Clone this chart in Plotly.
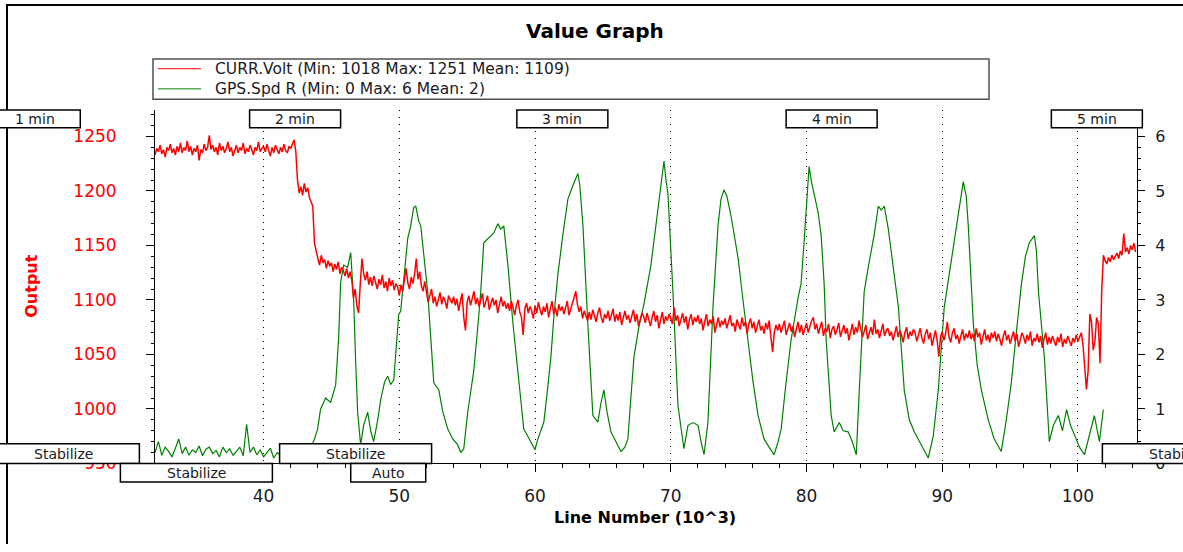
import numpy as np
import plotly.graph_objects as go

# ---------------------------------------------------------------------------
# Data
# ---------------------------------------------------------------------------
# CURR.Volt, one sample every 125 lines starting at line 32,000 (x in 10^3 lines)
volt_start = 32.0
volt_step = 0.125
volt = [
    1233, 1239, 1236, 1242, 1234, 1238, 1231, 1240, 1237, 1243, 1235, 1239, 1233, 1241, 1236, 1244,
    1235, 1240, 1237, 1246, 1236, 1241, 1233, 1239, 1236, 1242, 1228, 1238, 1235, 1243, 1237, 1240,
    1251, 1238, 1242, 1236, 1240, 1233, 1244, 1237, 1241, 1235, 1239, 1245, 1236, 1240, 1232, 1238,
    1242, 1235, 1240, 1237, 1244, 1234, 1239, 1236, 1242, 1238, 1233, 1240, 1237, 1245, 1236, 1239,
    1241, 1236, 1243, 1237, 1232, 1240, 1235, 1242, 1238, 1234, 1240, 1236, 1243, 1237, 1235, 1241,
    1239, 1244, 1247, 1236, 1210, 1198, 1204, 1196, 1207, 1199, 1203, 1194, 1190, 1186, 1152, 1143,
    1138, 1132, 1141, 1134, 1137, 1129, 1136, 1131, 1134, 1126, 1133, 1128, 1135, 1124, 1130, 1127,
    1122, 1129, 1120, 1126, 1118, 1102, 1110, 1094, 1088, 1115, 1138, 1124, 1118, 1126, 1114, 1121,
    1113, 1122, 1116, 1110, 1119, 1114, 1123, 1111, 1117, 1108, 1120, 1113, 1118, 1109, 1115, 1112,
    1104, 1114, 1108, 1117, 1129, 1116, 1110, 1121, 1115, 1124, 1138, 1119, 1126, 1113, 1108, 1117,
    1106, 1098, 1104, 1110, 1097, 1103, 1094, 1101, 1107, 1096, 1103, 1099, 1092, 1104, 1100, 1097,
    1103, 1095, 1101, 1090, 1099, 1106, 1084, 1072, 1098, 1104, 1095, 1101, 1108, 1096, 1102, 1094,
    1100, 1106, 1093, 1099, 1104, 1091, 1097, 1102, 1095, 1100, 1088, 1097, 1103, 1094, 1099, 1092,
    1097, 1090, 1099, 1093, 1086, 1095, 1100, 1089, 1084, 1068, 1092, 1097, 1088, 1094, 1090, 1083,
    1095, 1088, 1098, 1091, 1086, 1094, 1089, 1097, 1084, 1092, 1099, 1087, 1093, 1085, 1096, 1090,
    1094, 1087, 1092, 1099, 1086, 1093, 1097, 1102, 1108, 1096, 1089, 1094, 1083, 1090, 1086, 1081,
    1089, 1082, 1091, 1085, 1080, 1088, 1093, 1084, 1079, 1087, 1083, 1090, 1081, 1086, 1092, 1080,
    1087, 1081, 1089, 1077, 1085, 1090, 1082, 1086, 1079, 1084, 1091, 1080, 1087, 1076, 1083, 1088,
    1085, 1079, 1088, 1082, 1076, 1084, 1090, 1080, 1086, 1074, 1083, 1089, 1078, 1085, 1081, 1087,
    1083, 1078, 1093, 1081, 1086, 1076, 1082, 1088, 1079, 1085, 1073, 1082, 1087, 1077, 1084, 1080,
    1086, 1078, 1083, 1072, 1080, 1087, 1076, 1082, 1078, 1085, 1070, 1079, 1084, 1075, 1081, 1077,
    1083, 1074, 1080, 1086, 1076, 1079, 1071, 1082, 1077, 1073, 1084, 1076, 1080, 1069, 1078, 1083,
    1074, 1080, 1070, 1077, 1082, 1072, 1076, 1069, 1079, 1073, 1081, 1066, 1052, 1070, 1077, 1072,
    1078, 1070, 1075, 1081, 1068, 1074, 1079, 1071, 1076, 1066, 1073, 1080, 1070, 1077, 1068, 1074,
    1079, 1070, 1076, 1081, 1084, 1073, 1078, 1069, 1075, 1080, 1067, 1074, 1071, 1078, 1065, 1073,
    1076, 1068, 1073, 1079, 1066, 1072, 1077, 1069, 1074, 1063, 1071, 1078, 1068, 1075, 1070, 1081,
    1073, 1066, 1071, 1077, 1064, 1070, 1075, 1068, 1082, 1069, 1073, 1065, 1071, 1078, 1067, 1072,
    1074, 1067, 1071, 1063, 1069, 1076, 1066, 1072, 1068, 1061, 1070, 1075, 1064, 1071, 1067, 1073,
    1070, 1062, 1068, 1074, 1065, 1060, 1069, 1073, 1064, 1070, 1058, 1067, 1072, 1063, 1048, 1066,
    1071, 1063, 1069, 1080, 1066, 1061, 1070, 1074, 1064, 1068, 1060, 1067, 1073, 1063, 1069, 1065,
    1072, 1064, 1069, 1062, 1074, 1066, 1070, 1059, 1067, 1073, 1063, 1068, 1061, 1070, 1065, 1071,
    1062, 1069, 1064, 1058, 1067, 1072, 1063, 1068, 1060, 1066, 1071, 1062, 1069, 1057, 1065, 1070,
    1066, 1060, 1068, 1063, 1071, 1058, 1065, 1062, 1069, 1061, 1067, 1056, 1064, 1070, 1059, 1066,
    1060, 1067, 1062, 1058, 1066, 1061, 1069, 1057, 1064, 1060, 1067, 1062, 1058, 1065, 1061, 1068,
    1062, 1066, 1070, 1058, 1040, 1018, 1035, 1087, 1080, 1054, 1062, 1084, 1078, 1042, 1108, 1141,
    1136, 1133, 1139, 1135, 1141, 1137, 1140, 1143, 1138, 1145, 1141, 1161, 1144, 1148, 1142, 1150,
    1146, 1152, 1144,
]
volt_line = volt_start + volt_step * np.arange(len(volt))

# GPS.Spd R samples (line number in 10^3, speed)
spd_line = [
    32.0, 32.25, 32.5, 32.75, 33.0, 33.25, 33.5, 33.75, 34.0, 34.25, 34.5, 34.75,
    35.0, 35.25, 35.5, 35.75, 36.0, 36.25, 36.5, 36.75, 37.0, 37.25, 37.5, 37.75,
    38.0, 38.25, 38.5, 38.75, 39.0, 39.25, 39.5, 39.75, 40.0, 40.25, 40.5, 40.75,
    41.0, 41.25, 41.5, 41.75, 42.0, 42.25, 42.5, 42.75, 43.0, 43.25, 43.5, 43.75,
    43.98, 44.20, 44.57, 44.94, 45.31, 45.53, 45.68, 45.90, 46.19, 46.42, 46.64, 46.78,
    46.93, 47.15, 47.37, 47.67, 47.89, 48.11, 48.41, 48.63, 48.92, 49.14, 49.37, 49.59,
    49.96, 50.10, 50.40, 50.62, 50.84, 51.06, 51.21, 51.43, 51.58, 52.09, 52.54, 52.91,
    53.20, 53.57, 53.94, 54.31, 54.53, 54.75, 55.04, 55.27, 55.49, 55.78, 56.00, 56.22,
    56.59, 56.96, 57.26, 57.48, 57.70, 58.00, 58.36, 58.73, 59.17, 59.47, 59.69, 59.99,
    60.21, 60.65, 60.94, 61.17, 61.39, 61.68, 62.05, 62.42, 62.79, 63.16, 63.30, 63.53,
    63.89, 64.26, 64.63, 64.85, 65.07, 65.30, 65.59, 65.96, 66.33, 66.62, 66.84, 67.06,
    67.29, 67.65, 68.02, 68.54, 68.91, 69.28, 69.50, 69.65, 69.79, 70.16, 70.53, 70.97,
    71.27, 71.64, 72.01, 72.23, 72.45, 72.74, 73.11, 73.48, 73.70, 73.92, 74.14, 74.44,
    74.96, 75.32, 75.69, 76.06, 76.43, 76.87, 77.24, 77.61, 77.91, 78.13, 78.50, 78.86,
    79.38, 79.60, 79.82, 80.04, 80.19, 80.34, 80.56, 80.86, 81.08, 81.30, 81.45, 81.67,
    81.82, 82.04, 82.41, 82.70, 83.07, 83.37, 83.67, 83.89, 84.25, 84.55, 84.77, 84.99,
    85.29, 85.51, 85.73, 86.03, 86.25, 86.77, 87.20, 87.57, 87.94, 88.45, 88.97, 89.34,
    89.71, 90.15, 90.52, 90.88, 91.25, 91.55, 91.77, 91.92, 92.29, 92.58, 92.88, 93.39,
    93.83, 94.35, 94.72, 95.09, 95.46, 95.83, 96.13, 96.42, 96.79, 96.94, 97.09, 97.31,
    97.52, 97.89, 98.19, 98.56, 98.86, 99.16, 99.45, 99.75, 100.11, 100.48, 100.85, 101.21,
    101.58, 101.87,
]
spd_val = [
    0.20, 0.40, 0.15, 0.30, 0.22, 0.12, 0.28, 0.45, 0.18, 0.30, 0.15, 0.25,
    0.20, 0.32, 0.14, 0.26, 0.30, 0.18, 0.24, 0.12, 0.30, 0.20, 0.27, 0.15,
    0.22, 0.30, 0.14, 0.72, 0.20, 0.30, 0.16, 0.25, 0.12, 0.20, 0.28, 0.10,
    0.20, 0.15, 0.25, 0.10, 0.18, 0.12, 0.20, 0.15, 0.30, 0.35, 0.30, 0.45,
    0.63, 1.00, 1.20, 1.12, 1.44, 2.30, 3.33, 3.64, 3.60, 3.87, 2.97, 1.90,
    0.94, 0.34, 0.70, 0.94, 0.60, 0.40, 0.80, 1.17, 1.50, 1.60, 1.45, 1.53,
    2.74, 2.79, 3.60, 4.13, 4.36, 4.70, 4.72, 4.45, 4.36, 3.15, 1.48, 1.35,
    0.95, 0.63, 0.45, 0.34, 0.20, 0.27, 0.94, 1.30, 1.71, 2.50, 3.15, 4.05,
    4.15, 4.23, 4.40, 4.30, 4.36, 3.64, 2.60, 1.66, 0.63, 0.50, 0.40, 0.25,
    0.45, 0.76, 1.40, 1.96, 2.70, 3.46, 4.20, 4.85, 5.10, 5.32, 5.10, 4.36,
    2.56, 0.88, 0.76, 1.10, 1.35, 0.95, 0.58, 0.40, 0.22, 0.30, 0.45, 1.20,
    1.96, 2.50, 2.92, 3.64, 4.40, 5.08, 5.55, 5.20, 4.95, 3.15, 1.06, 0.27,
    0.70, 0.75, 0.70, 0.40, 0.16, 0.76, 2.87, 4.36, 4.85, 5.02, 4.90, 4.54,
    3.77, 3.00, 2.26, 1.50, 0.88, 0.45, 0.30, 0.16, 0.40, 0.63, 1.50, 2.26,
    3.04, 3.30, 4.05, 4.90, 5.45, 5.20, 4.95, 4.60, 4.18, 3.30, 2.26, 1.40,
    0.88, 0.58, 0.75, 0.60, 0.58, 0.40, 0.16, 1.35, 3.15, 3.60, 3.87, 4.20,
    4.72, 4.65, 4.72, 4.30, 3.87, 2.87, 1.35, 0.80, 0.58, 0.35, 0.10, 0.50,
    1.35, 2.87, 3.50, 4.05, 4.70, 5.17, 4.90, 4.36, 2.56, 1.80, 1.35, 0.80,
    0.45, 0.22, 0.80, 1.48, 2.40, 3.28, 3.80, 4.05, 4.18, 3.90, 3.15, 2.50,
    1.96, 0.40, 0.70, 0.88, 0.60, 0.99, 0.70, 0.52, 0.30, 0.16, 0.50, 0.88,
    0.40, 0.99,
]

# Time markers and flight-mode changes (line number in 10^3 where each starts)
minute_labels = ["1 min", "2 min", "3 min", "4 min", "5 min"]
minute_lines = [19.79, 38.97, 58.66, 78.50, 98.04]
mode_labels = ["Stabilize", "Stabilize", "Stabilize", "Auto", "Stabilize"]
mode_lines = [19.65, 29.45, 41.18, 46.42, 101.80]

legend_labels = [
    "CURR.Volt (Min: 1018 Max: 1251 Mean: 1109)",
    "GPS.Spd R (Min: 0 Max: 6 Mean: 2)",
]

# ---------------------------------------------------------------------------
# Layout geometry (pixel positions measured from the top-left of the figure)
# ---------------------------------------------------------------------------
W, H = 1183, 552
PLOT_L, PLOT_R, PLOT_T, PLOT_B = 155, 1137, 112, 472
XR = [32.0, 104.35]
YR_VOLT = [950, 1274.3]
YR_SPD = [0, 6.486]
XD = [PLOT_L / W, PLOT_R / W]
YD = [1 - PLOT_B / H, 1 - PLOT_T / H]

RED = "#ff0000"
GREEN = "#008000"
TXT = "#1a1a24"
FONT = "DejaVu Sans"
MODE_BOX_W = {"Stabilize": 152, "Auto": 75}


def px(xp):
    return xp / W


def py(yp):
    return 1 - yp / H


def line_to_px(v):
    return PLOT_L + (v - XR[0]) / (XR[1] - XR[0]) * (PLOT_R - PLOT_L)


fig = go.Figure()
fig.add_trace(go.Scatter(
    x=spd_line, y=spd_val, mode="lines", name="GPS.Spd R",
    line=dict(color=GREEN, width=1.2), xaxis="x", yaxis="y",
))
fig.add_trace(go.Scatter(
    x=volt_line, y=volt, mode="lines", name="CURR.Volt",
    line=dict(color=RED, width=1.5), xaxis="x", yaxis="y2",
))

common = dict(showgrid=False, zeroline=False, tickcolor="black", tickwidth=1)

fig.update_layout(
    width=W, height=H, autosize=False,
    margin=dict(l=0, r=0, t=0, b=0),
    paper_bgcolor="white", plot_bgcolor="white",
    showlegend=False,
    font=dict(family=FONT, color=TXT),
    xaxis=dict(
        domain=XD, range=XR, anchor="y", tick0=0, dtick=10,
        ticks="outside", ticklen=8, tickcolor="black",
        minor=dict(dtick=2, ticks="outside", ticklen=4, tickcolor="black", showgrid=False),
        showline=True, linecolor="black", linewidth=1,
        showgrid=True, gridcolor="black", gridwidth=1, griddash="1px,6px",
        zeroline=False, tickfont=dict(family=FONT, size=17, color=TXT),
        ticklabelstandoff=9,
    ),
    xaxis2=dict(
        domain=XD, range=XR, overlaying="x", anchor="y", side="top",
        tick0=0, dtick=2, ticks="inside", ticklen=4, showticklabels=False,
        showline=True, linecolor="black", linewidth=1, **common,
    ),
    xaxis3=dict(
        domain=XD, range=XR, overlaying="x", anchor="y", side="bottom",
        tick0=0, dtick=10, ticks="inside", ticklen=6,
        minor=dict(dtick=2, ticks="inside", ticklen=3, tickcolor="black"),
        showticklabels=False, showline=False, **common,
    ),
    yaxis=dict(
        domain=YD, range=YR_SPD, anchor="x", side="right", tick0=0, dtick=1,
        ticks="outside", ticklen=7,
        minor=dict(dtick=0.2, ticks="outside", ticklen=3, tickcolor="black"),
        showline=True, linecolor="black", linewidth=1,
        tickfont=dict(family=FONT, size=16, color=TXT), ticklabelstandoff=7,
        **common,
    ),
    yaxis2=dict(
        domain=YD, range=YR_VOLT, overlaying="y", anchor="x", side="left",
        tick0=0, dtick=50, ticks="outside", ticklen=8,
        minor=dict(dtick=10, ticks="outside", ticklen=3, tickcolor="black"),
        showline=True, linecolor="black", linewidth=1,
        tickfont=dict(family=FONT, size=17, color=RED), ticklabelstandoff=26,
        **common,
    ),
    yaxis3=dict(
        domain=YD, range=YR_VOLT, overlaying="y", anchor="x", side="left",
        tick0=0, dtick=50, ticks="inside", ticklen=5,
        minor=dict(dtick=10, ticks="inside", ticklen=2, tickcolor="black"),
        showticklabels=False, showline=False, **common,
    ),
    yaxis4=dict(
        domain=YD, range=YR_SPD, overlaying="y", anchor="x", side="right",
        tick0=0, dtick=1, ticks="inside", ticklen=7,
        minor=dict(dtick=0.2, ticks="inside", ticklen=3, tickcolor="black"),
        showticklabels=False, showline=False, **common,
    ),
)

shapes = []
annotations = []

# Outer frame (top and left edges)
shapes.append(dict(type="line", xref="paper", yref="paper", x0=px(6), x1=px(W + 2),
                   y0=py(5), y1=py(5), line=dict(color="black", width=2), layer="above"))
shapes.append(dict(type="line", xref="paper", yref="paper", x0=px(7), x1=px(7),
                   y0=py(4), y1=py(H + 2), line=dict(color="black", width=2), layer="above"))


def label_box(left, top, width, height, text, size=14):
    shapes.append(dict(type="rect", xref="paper", yref="paper",
                       x0=px(left), x1=px(left + width), y0=py(top + height), y1=py(top),
                       fillcolor="white", line=dict(color="black", width=1.5), layer="above"))
    annotations.append(dict(xref="paper", yref="paper", x=px(left + width / 2),
                            y=py(top + height / 2), text=text, showarrow=False,
                            xanchor="center", yanchor="middle",
                            font=dict(family=FONT, size=size, color=TXT)))


# Minute markers along the top edge
for lab, ln in zip(minute_labels, minute_lines):
    label_box(line_to_px(ln), PLOT_T, 91, 18, lab)

# Flight-mode markers along the bottom edge, stacked into two rows when they overlap
MODE_H = 20
row_tops = [PLOT_B - MODE_H, PLOT_B]
row_end = [-1e9, -1e9]
for lab, ln in zip(mode_labels, mode_lines):
    left = line_to_px(ln)
    bw = MODE_BOX_W[lab]
    row = 0 if left >= row_end[0] else 1
    row_end[row] = left + bw
    label_box(left, row_tops[row], bw, MODE_H - (1 if row else 0), lab)

# Legend box
LEG_L, LEG_T, LEG_R, LEG_B = 153, 60, 989, 101
shapes.append(dict(type="rect", xref="paper", yref="paper", x0=px(LEG_L), x1=px(LEG_R),
                   y0=py(LEG_B), y1=py(LEG_T), fillcolor="white",
                   line=dict(color="#505050", width=1.5), layer="above"))
for i, (lab, col) in enumerate(zip(legend_labels, [RED, GREEN])):
    yy = 70 + i * 20.5
    shapes.append(dict(type="line", xref="paper", yref="paper", x0=px(158), x1=px(201),
                       y0=py(yy), y1=py(yy), line=dict(color=col, width=1), layer="above"))
    annotations.append(dict(xref="paper", yref="paper", x=px(213), y=py(yy), text=lab,
                            showarrow=False, xanchor="left", yanchor="middle",
                            font=dict(family=FONT, size=15.5, color=TXT)))

# Title and axis titles
annotations.append(dict(xref="paper", yref="paper", x=px(595), y=py(32), text="Value Graph",
                        showarrow=False, xanchor="center", yanchor="middle",
                        font=dict(family=FONT, size=20, color="black", weight="bold")))
annotations.append(dict(xref="paper", yref="paper", x=px(32), y=py(291), text="Output",
                        showarrow=False, xanchor="center", yanchor="middle", textangle=-90,
                        font=dict(family=FONT, size=16, color=RED, weight="bold")))
annotations.append(dict(xref="paper", yref="paper", x=px(645), y=py(527),
                        text="Line Number (10^3)", showarrow=False,
                        xanchor="center", yanchor="middle",
                        font=dict(family=FONT, size=16, color="black", weight="bold")))

fig.update_layout(shapes=shapes, annotations=annotations)
fig.write_html("out.html")
